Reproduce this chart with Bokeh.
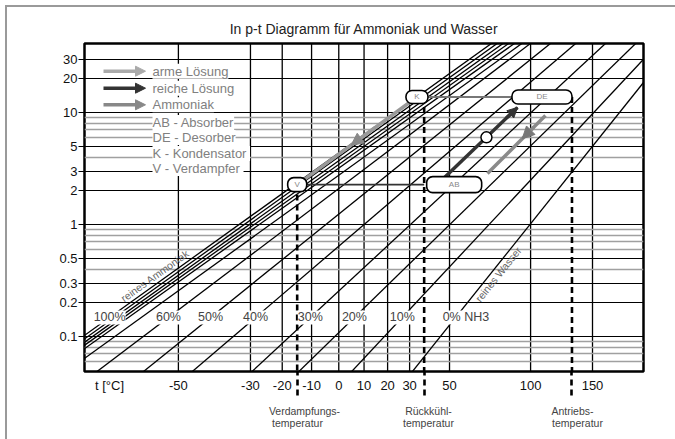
import math
import numpy as np
from bokeh.plotting import figure
from bokeh.models import (Range1d, FixedTicker, CustomJSTickFormatter, Label, LinearAxis,
                          Arrow, NormalHead, Rect)
from bokeh.core.properties import value
from bokeh.embed import file_html
from bokeh.resources import INLINE

# ---------------- data ----------------
conc = ["100%", "95%", "90%", "85%", "80%", "70%", "60%", "50%", "40%", "30%", "20%", "10%", "0%"]
t_at_01bar = [-71.9, -70.9, -69.9, -69.0, -68.0, -65.1, -58.6, -47.8, -35.1, -17.5, -1.5, 18.6, 45.2]   # degC at p = 0.1 bar
t_at_10bar = [23.4, 25.9, 28.5, 31.0, 33.6, 37.9, 44.6, 58.4, 76.3, 100.4, 126.1, 151.2, 176.3]      # degC at p = 10 bar
conc_shown = ["100%", "60%", "50%", "40%", "30%", "20%", "10%", "0%"]
conc_shown_text = ["100%", "60%", "50%", "40%", "30%", "20%", "10%", "0% NH3"]

x_tick_c = [-50, -30, -20, -10, 0, 10, 20, 30, 50, 100, 150]
y_ticks = [0.1, 0.2, 0.3, 0.5, 1, 2, 3, 5, 10, 20, 30]
y_minor = [0.06, 0.07, 0.08, 0.09, 0.4, 0.6, 0.7, 0.8, 0.9, 4, 6, 7, 8, 9]

# absorption cycle
t_verdampfung = -15.0
t_rueckkuehl = 37.0
t_antrieb = 132.0
t_kondensator = 33.5
p_low = 2.27
p_high = 13.75
rich_t = [46.8, 90.9]
rich_p = [2.57, 11.1]
poor_t = [110.9, 71.6]
poor_p = [9.4, 2.85]
pump_t = [71.0]
pump_p = [6.0]

legend_items = ["arme Lösung", "reiche Lösung", "Ammoniak"]
legend_abbrev = ["AB - Absorber", "DE - Desorber", "K  - Kondensator", "V  - Verdampfer"]
temp_names_1 = ["Verdampfungs-", "Rückkühl-", "Antriebs-"]
temp_names_2 = ["temperatur", "temperatur", "temperatur"]

# ---------------- axes geometry ----------------
T_LEFT, T_RIGHT = -71.6, 202.5
P_BOT, P_TOP = 0.0487, 41.3
FW, FH = 559, 328
FL, FT = 84, 43          # page position of frame
FR, FB = FL + FW, FT + FH
OFF = 7                  # canvas origin on the page (after outer border)
FONT = "Liberation Sans"


def tx(t):
    return -1000.0 / (np.asarray(t, dtype=float) + 273.15)


U0, U1 = float(tx(T_LEFT)), float(tx(T_RIGHT))
LP0, LP1 = math.log10(P_BOT), math.log10(P_TOP)
DU = (U1 - U0) / FW


def ux(px):
    return U0 + (px - FL) / FW * (U1 - U0)


def py_(py):
    return 10 ** (LP1 - (py - FT) / FH * (LP1 - LP0))


p = figure(frame_width=FW, frame_height=FH,
           x_range=Range1d(U0, U1), y_range=Range1d(P_BOT, P_TOP),
           y_axis_type="log", output_backend="svg", toolbar_location=None,
           min_border_left=FL - OFF, min_border_right=675 - FR, min_border_top=FT - OFF,
           min_border_bottom=439 - FB,
           background_fill_color="white", border_fill_color="white",
           title="In p-t Diagramm für Ammoniak und Wasser")
p.styles = {"margin-left": "5px", "margin-top": "5px",
            "border-left": "2px solid #9a9a9a", "border-top": "2px solid #9a9a9a"}
p.title.align = "center"
p.title.text_font = FONT
p.title.text_font_size = "14px"
p.title.text_font_style = "normal"
p.title.text_color = "#222222"
p.title.standoff = 13
p.outline_line_color = "black"
p.outline_line_width = 2.5

# x axis
u_tlabel = ux(109)
xt = FixedTicker(ticks=[u_tlabel] + [float(v) for v in tx(x_tick_c)],
                 minor_ticks=[float(v) for v in tx([t_verdampfung, t_rueckkuehl, t_antrieb])])
p.xaxis.ticker = xt
p.xaxis.formatter = CustomJSTickFormatter(
    args=dict(tl=u_tlabel),
    code="if (Math.abs(tick - tl) < 1e-9) { return 't [°C]'; } return String(Math.round(-1000/tick - 273.15));")
p.xaxis.axis_line_color = None
p.xaxis.major_tick_out = 0
p.xaxis.major_tick_in = 0
p.xaxis.minor_tick_out = 24
p.xaxis.minor_tick_in = 0
p.xaxis.minor_tick_line_color = "black"
p.xaxis.minor_tick_line_width = 2.6
p.xaxis.minor_tick_line_dash = "6 4"
p.xaxis.major_label_standoff = -18
p.xaxis.major_label_text_font = FONT
p.xaxis.major_label_text_font_size = "13px"
p.xaxis.major_label_text_color = "#111111"
p.xgrid.visible = False

# extra axes below carrying the names of the dashed temperatures
name_px_1 = [304, 428, 572]
name_px_2 = [297, 428, 577]
for names, pxs, standoff in [(temp_names_1, name_px_1, 9), (temp_names_2, name_px_2, -3)]:
    tks = [ux(v) for v in pxs]
    ax = LinearAxis(ticker=FixedTicker(ticks=tks),
                    formatter=CustomJSTickFormatter(
                        args=dict(pos=tks, labs=names),
                        code="let b=0, d=1e9; for (let i=0;i<pos.length;i++){const e=Math.abs(pos[i]-tick); if(e<d){d=e;b=i;}} return labs[b];"),
                    axis_line_color=None, major_tick_out=0, major_tick_in=0,
                    minor_tick_out=0, minor_tick_in=0, major_label_standoff=standoff,
                    major_label_text_font=FONT, major_label_text_font_size="10.5px",
                    major_label_text_color="#444444")
    p.add_layout(ax, "below")

# vertical grid lines at the temperature ticks
ugrid = [float(v) for v in tx(x_tick_c)]
p.segment(x0=ugrid, y0=[P_BOT * 0.5] * len(ugrid), x1=ugrid, y1=[P_TOP * 2] * len(ugrid),
          line_color="black", line_width=1.3, level="underlay")

# y axis
yt = FixedTicker(ticks=y_ticks, minor_ticks=y_minor)
p.yaxis.ticker = yt
p.ygrid.ticker = yt
p.yaxis.formatter = CustomJSTickFormatter(code="return String(tick);")
p.yaxis.axis_line_color = None
p.yaxis.major_tick_out = 6
p.yaxis.major_tick_in = 3
p.yaxis.major_tick_line_width = 1.2
p.yaxis.minor_tick_out = 0
p.yaxis.minor_tick_in = 0
p.yaxis.major_label_standoff = 1
p.yaxis.major_label_text_font = FONT
p.yaxis.major_label_text_font_size = "13px"
p.yaxis.major_label_text_color = "#111111"
p.ygrid.grid_line_color = "black"
p.ygrid.grid_line_width = 1.1
p.ygrid.minor_grid_line_color = "#a0a0a0"
p.ygrid.minor_grid_line_width = 1.6

# ---------------- concentration lines ----------------
lp_ext = np.array([-2.5, 2.5])
xs, ys = [], []
line_par = {}
for name, tl, th in zip(conc, t_at_01bar, t_at_10bar):
    ul, uh = float(tx(tl)), float(tx(th))
    line_par[name] = (ul, uh)
    us = ul + (lp_ext + 1) / 2 * (uh - ul)
    xs.append([float(v) for v in us])
    ys.append([float(v) for v in 10 ** lp_ext])
p.multi_line(xs, ys, line_color="black", line_width=1.3)


def u_on(name, pval):
    ul, uh = line_par[name]
    return ul + (math.log10(pval) + 1) / 2 * (uh - ul)


def screen_angle(name):
    ul, uh = line_par[name]
    dx = (uh - ul) / (U1 - U0) * FW
    dy = 2.0 / (LP1 - LP0) * FH
    return math.atan2(dy, dx)


# ---------------- cycle ----------------
u_v, u_k = float(tx(t_verdampfung)), float(tx(t_kondensator))
u_r, u_a = float(tx(t_rueckkuehl)), float(tx(t_antrieb))

# dashed temperature lines
p.segment(x0=[u_v, u_r, u_a], y0=[p_low, p_high, p_high],
          x1=[u_v, u_r, u_a], y1=[P_BOT * 0.5] * 3,
          line_color="black", line_width=2.6, line_dash="6 4")

# horizontal connections
p.line([u_v, u_r], [p_low, p_low], line_color="#333333", line_width=1.6)
p.line([u_k, u_a], [p_high, p_high], line_color="#777777", line_width=2.2)

# ammonia K -> V
p.line([u_k, u_v], [p_high, p_low], line_color="#999999", line_width=3.5)
fa, fb = 0.35, 0.55
lpk, lpv = math.log10(p_high), math.log10(p_low)
p.add_layout(Arrow(x_start=u_k + fa * (u_v - u_k), y_start=10 ** (lpk + fa * (lpv - lpk)),
                   x_end=u_k + fb * (u_v - u_k), y_end=10 ** (lpk + fb * (lpv - lpk)),
                   line_color="#999999", line_width=3.5,
                   end=NormalHead(size=12, fill_color="#888888", line_color="#888888")))

# rich solution AB -> DE
ur = [float(v) for v in tx(rich_t)]
p.line(ur, rich_p, line_color="#333333", line_width=3.5)
p.add_layout(Arrow(x_start=ur[0] + 0.85 * (ur[1] - ur[0]),
                   y_start=10 ** (math.log10(rich_p[0]) + 0.85 * (math.log10(rich_p[1]) - math.log10(rich_p[0]))),
                   x_end=ur[1], y_end=rich_p[1], line_color="#333333", line_width=3.5,
                   end=NormalHead(size=10, fill_color="#333333", line_color="#333333")))

# poor solution DE -> AB
upo = [float(v) for v in tx(poor_t)]
lp0p, lp1p = math.log10(poor_p[0]), math.log10(poor_p[1])
p.line(upo, poor_p, line_color="#8a8a8a", line_width=3.5)
p.add_layout(Arrow(x_start=upo[0] + 0.2 * (upo[1] - upo[0]), y_start=10 ** (lp0p + 0.2 * (lp1p - lp0p)),
                   x_end=upo[0] + 0.4 * (upo[1] - upo[0]), y_end=10 ** (lp0p + 0.4 * (lp1p - lp0p)),
                   line_color="#8a8a8a", line_width=3.5,
                   end=NormalHead(size=12, fill_color="#777777", line_color="#777777")))

# pump circle
p.scatter([float(v) for v in tx(pump_t)], pump_p, marker="circle", size=11,
          fill_color="white", line_color="black", line_width=1.5)

# boxes
box_x = [u_v, u_k, u_r + 30 * DU, u_a - 30 * DU]
box_y = [p_low, p_high, p_low, p_high]
box_w = [19, 22, 55, 60]
box_h = [14, 13, 16, 14]
box_t = ["V", "K", "AB", "DE"]
rk = {}
if "border_radius" in Rect.properties():
    rk["border_radius"] = 6
p.rect(box_x, box_y, width=box_w, height=box_h, width_units="screen", height_units="screen",
       fill_color="white", line_color="black", line_width=1.6, **rk)
p.text(box_x, box_y, text=box_t, text_align="center", text_baseline="middle",
       text_font=value(FONT), text_font_size="8px", text_color="#888888")

# ---------------- concentration labels ----------------
P_LAB = 0.148
for name, txt in zip(conc_shown, conc_shown_text):
    u = u_on(name, P_LAB)
    if txt.startswith("0%"):
        lab = Label(x=u, y=P_LAB, text=txt, text_align="left", text_baseline="middle", x_offset=-13)
    else:
        lab = Label(x=u, y=P_LAB, text=txt, text_align="center", text_baseline="middle")
    lab.text_font = FONT
    lab.text_font_size = "12.5px"
    lab.text_color = "#444444"
    lab.background_fill_color = "white"
    p.add_layout(lab)

p.add_layout(Label(x=u_on("100%", 0.35), y=0.35, text="reines Ammoniak", x_offset=-13,
                   angle=screen_angle("100%"), text_align="center", text_baseline="middle",
                   text_font=FONT, text_font_size="10.5px", text_color="#666666"))
p.add_layout(Label(x=u_on("0%", 0.36), y=0.36, text="reines Wasser", x_offset=8,
                   angle=screen_angle("0%"), text_align="center", text_baseline="middle",
                   text_font=FONT, text_font_size="10.5px", text_color="#666666"))

# ---------------- legend ----------------
leg_col = ["#aaaaaa", "#333333", "#888888"]
leg_y = [70.7, 87.7, 104.3]
for txt, col, yy in zip(legend_items, leg_col, leg_y):
    p.add_layout(Arrow(x_start=ux(103), y_start=py_(yy), x_end=ux(145), y_end=py_(yy),
                       line_color=col, line_width=3.5,
                       end=NormalHead(size=10, fill_color=col, line_color=col)))
    p.add_layout(Label(x=ux(152), y=py_(yy), text=txt, text_align="left", text_baseline="middle",
                       text_font=FONT, text_font_size="13px", text_color="#808080",
                       background_fill_color="white"))
for txt, yy in zip(legend_abbrev, [122, 137, 153, 168]):
    p.add_layout(Label(x=ux(152), y=py_(yy), text=txt, text_align="left", text_baseline="middle",
                       text_font=FONT, text_font_size="13px", text_color="#808080",
                       background_fill_color="white"))

# ---------------- y label ----------------
p.add_layout(Label(x=ux(46.5), y=py_(192), text="p", text_align="center", text_baseline="alphabetic",
                   text_font=FONT, text_font_size="18px", text_font_style="bold", text_color="#222222"))
p.add_layout(Label(x=ux(54.5), y=py_(209), text="[bara]", text_align="center", text_baseline="middle",
                   text_font=FONT, text_font_size="8.5px", text_font_style="bold", text_color="#222222"))

open("out.html", "w").write(file_html(p, INLINE))
